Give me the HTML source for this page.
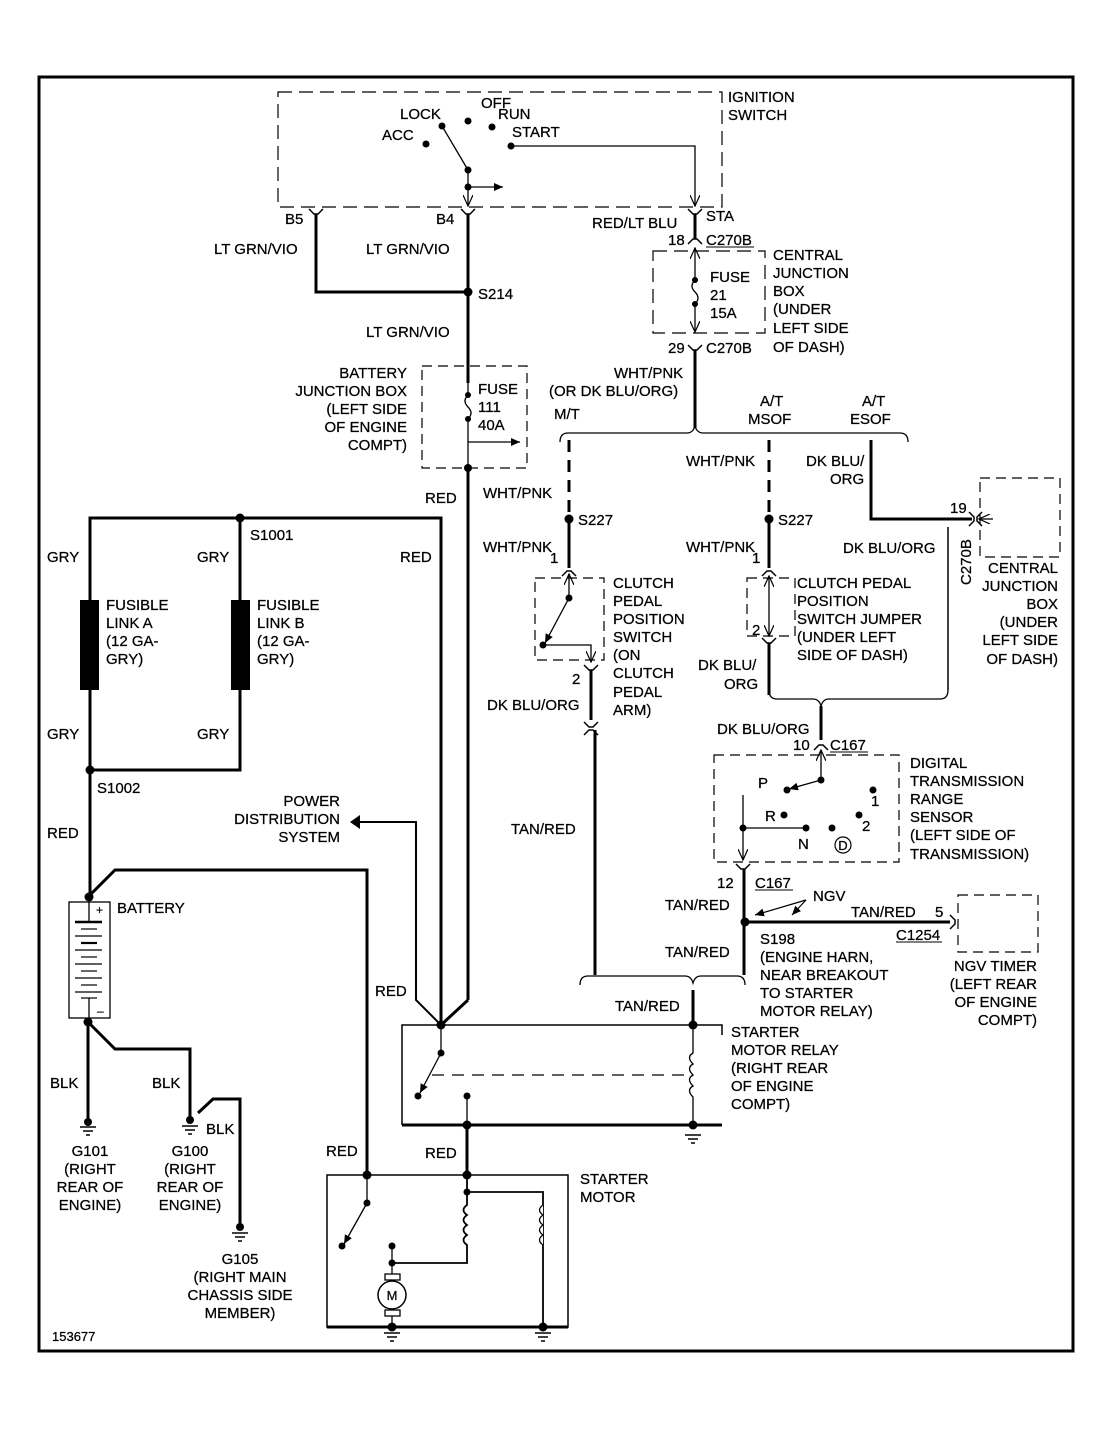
<!DOCTYPE html>
<html><head><meta charset="utf-8"><style>
html,body{margin:0;padding:0;background:#fff}
svg{display:block}
text{font-family:"Liberation Sans",sans-serif;font-size:15px;fill:#000;stroke:#000;stroke-width:0.25}
</style></head><body>
<svg width="1112" height="1429" viewBox="0 0 1112 1429" xmlns="http://www.w3.org/2000/svg">
<defs>
<marker id="ar" markerWidth="10" markerHeight="10" refX="9" refY="5" orient="auto" markerUnits="userSpaceOnUse"><path d="M0,1 L9,5 L0,9 Z" fill="#000"/></marker>
<marker id="av" markerWidth="12" markerHeight="10" refX="11" refY="5" orient="auto" markerUnits="userSpaceOnUse"><path d="M0,0 L11,5 L0,10" fill="none" stroke="#000" stroke-width="1.2"/></marker>
</defs>
<g fill="none" stroke="#000">
<rect x="39" y="77" width="1034" height="1274" stroke-width="3"/>
<rect x="278" y="92" width="444" height="115" stroke-dasharray="14,7" stroke-width="1.2"/>
<line x1="442" y1="126" x2="468" y2="170" stroke-width="1.3"/>
<line x1="468" y1="170" x2="468" y2="206" stroke-width="1.3" marker-end="url(#av)"/>
<line x1="468" y1="187" x2="503" y2="187" stroke-width="1.3" marker-end="url(#ar)"/>
<polyline points="511,146 695,146 695,206" stroke-width="1.3" marker-end="url(#av)"/>
<path d="M309,209 L314,214 L318,214 L323,209" stroke-width="1.5"/>
<path d="M461,209 L466,214 L470,214 L475,209" stroke-width="1.5"/>
<path d="M688,209 L693,214 L697,214 L702,209" stroke-width="1.5"/>
<path d="M688,244 L693,239 L697,239 L702,244" stroke-width="1.5"/>
<path d="M688,345 L693,350 L697,350 L702,345" stroke-width="1.5"/>
<polyline points="316,214 316,292 468,292" stroke-width="3"/>
<line x1="468" y1="214" x2="468" y2="383" stroke-width="3"/>
<line x1="695" y1="214" x2="695" y2="239" stroke-width="3"/>
<rect x="422" y="366" width="105" height="102" stroke-dasharray="10,6" stroke-width="1.2"/>
<path d="M468,383 L468,395 Q462,401 468,407 Q474,413 468,419 L468,468" stroke-width="1.3"/>
<line x1="468" y1="442" x2="520" y2="442" stroke-width="1.3" marker-end="url(#ar)"/>
<line x1="468" y1="468" x2="468" y2="1000" stroke-width="3"/>
<polyline points="468,1000 441,1025" stroke-width="3"/>
<rect x="653" y="251" width="112" height="82" stroke-dasharray="14,7" stroke-width="1.2"/>
<line x1="695" y1="262" x2="695" y2="248" stroke-width="1.3" marker-end="url(#av)"/>
<path d="M695,262 L695,280 Q689,286 695,292 Q701,298 695,304 L695,332" stroke-width="1.3" marker-end="url(#av)"/>
<line x1="695" y1="350" x2="695" y2="428" stroke-width="3"/>
<path d="M560,442 Q560,433 568,433 L687,433 Q693,433 695,426 Q697,433 703,433 L900,433 Q908,433 908,442" stroke-width="1.3"/>
<line x1="569" y1="440" x2="569" y2="519" stroke-width="3" stroke-dasharray="12,8"/>
<line x1="569" y1="519" x2="569" y2="568" stroke-width="3"/>
<path d="M562,576 L567,571 L571,571 L576,576" stroke-width="1.5"/>
<rect x="535" y="578" width="69" height="82" stroke-dasharray="10,6" stroke-width="1.2"/>
<line x1="569" y1="598" x2="569" y2="574" stroke-width="1.3" marker-end="url(#av)"/>
<line x1="569" y1="598" x2="545" y2="643" stroke-width="1.3" marker-end="url(#ar)"/>
<polyline points="545,645 591,645 591,662" stroke-width="1.3" marker-end="url(#av)"/>
<path d="M584,665 L589,670 L593,670 L598,665" stroke-width="1.5"/>
<line x1="591" y1="670" x2="591" y2="720" stroke-width="3"/>
<path d="M584,722 L589,727 L593,727 L598,722" stroke-width="1.5"/>
<path d="M584,735 L589,730 L593,730 L598,735" stroke-width="1.5"/>
<line x1="595" y1="730" x2="595" y2="975" stroke-width="3"/>
<line x1="769" y1="440" x2="769" y2="519" stroke-width="3" stroke-dasharray="12,8"/>
<line x1="769" y1="519" x2="769" y2="568" stroke-width="3"/>
<path d="M762,576 L767,571 L771,571 L776,576" stroke-width="1.5"/>
<rect x="747" y="578" width="48" height="58" stroke-dasharray="10,6" stroke-width="1.2"/>
<line x1="769" y1="605" x2="769" y2="576" stroke-width="1.3" marker-end="url(#av)"/>
<line x1="769" y1="605" x2="769" y2="636" stroke-width="1.3" marker-end="url(#av)"/>
<path d="M762,638 L767,643 L771,643 L776,638" stroke-width="1.5"/>
<line x1="769" y1="643" x2="769" y2="695" stroke-width="3"/>
<polyline points="871,440 871,519 972,519" stroke-width="3"/>
<path d="M969,512 L974,517 L974,521 L969,526" stroke-width="1.5"/>
<rect x="980" y="478" width="80" height="79" stroke-dasharray="10,6" stroke-width="1.2"/>
<line x1="993" y1="519" x2="979" y2="519" stroke-width="1.3" marker-end="url(#av)"/>
<path d="M982,512 L977,517 L977,521 L982,526" stroke-width="1.5"/>
<line x1="948" y1="527" x2="948" y2="690" stroke-width="1.5"/>
<path d="M769,690 Q769,699 777,699 L813,699 Q819,699 821,706 Q823,699 829,699 L940,699 Q948,699 948,690" stroke-width="1.3"/>
<line x1="821" y1="706" x2="821" y2="740" stroke-width="3"/>
<path d="M814,750 L819,745 L823,745 L828,750" stroke-width="1.5"/>
<rect x="714" y="755" width="185" height="107" stroke-dasharray="10,6" stroke-width="1.2"/>
<line x1="821" y1="780" x2="821" y2="750" stroke-width="1.3" marker-end="url(#av)"/>
<line x1="821" y1="780" x2="789" y2="789" stroke-width="1.3" marker-end="url(#ar)"/>
<polyline points="743,795 743,828 806,828" stroke-width="1.3"/>
<line x1="743" y1="828" x2="743" y2="860" stroke-width="1.3" marker-end="url(#av)"/>
<circle cx="843" cy="845" r="8" stroke-width="1.2"/>
<path d="M736,864 L741,869 L745,869 L750,864" stroke-width="1.5"/>
<line x1="744" y1="869" x2="744" y2="975" stroke-width="3"/>
<line x1="744" y1="922" x2="950" y2="922" stroke-width="3"/>
<path d="M950,915 L955,920 L955,924 L950,929" stroke-width="1.5"/>
<rect x="958" y="895" width="80" height="57" stroke-dasharray="10,6" stroke-width="1.2"/>
<line x1="806" y1="900" x2="755" y2="915" stroke-width="1.2" marker-end="url(#ar)"/>
<line x1="806" y1="900" x2="792" y2="915" stroke-width="1.2" marker-end="url(#ar)"/>
<path d="M580,985 Q580,976 588,976 L685,976 Q691,976 693,983 Q695,976 701,976 L737,976 Q745,976 745,985" stroke-width="1.3"/>
<line x1="693" y1="990" x2="693" y2="1025" stroke-width="3"/>
<polyline points="402,1125 402,1025 722,1025 722,1035" stroke-width="1.5"/>
<line x1="402" y1="1125" x2="722" y2="1125" stroke-width="3"/>
<line x1="441" y1="1025" x2="441" y2="1053" stroke-width="1.3"/>
<line x1="441" y1="1053" x2="420" y2="1093" stroke-width="1.3" marker-end="url(#ar)"/>
<line x1="432" y1="1075" x2="693" y2="1075" stroke-width="1.2" stroke-dasharray="12,8"/>
<line x1="467" y1="1096" x2="467" y2="1125" stroke-width="1.3"/>
<path d="M693,1025 L693,1053 Q686,1057 693,1064 Q686,1068 693,1075 Q686,1079 693,1086 Q686,1090 693,1097 L693,1125" stroke-width="1.3"/>
<line x1="467" y1="1125" x2="467" y2="1175" stroke-width="3"/>
<rect x="327" y="1175" width="241" height="152" stroke-width="1.5"/>
<line x1="327" y1="1327" x2="568" y2="1327" stroke-width="3"/>
<line x1="367" y1="1175" x2="367" y2="1203" stroke-width="1.3"/>
<line x1="367" y1="1203" x2="344" y2="1244" stroke-width="1.3" marker-end="url(#ar)"/>
<polyline points="467,1175 467,1192 543,1192 543,1327" stroke-width="1.8"/>
<path d="M467,1192 L467,1205 Q460,1210 467,1215 Q460,1220 467,1225 Q460,1230 467,1235 Q460,1240 467,1245 L467,1263 L392,1263" stroke-width="1.8"/>
<path d="M543,1205 Q536,1210 543,1215 Q536,1220 543,1225 Q536,1230 543,1235 Q536,1240 543,1245" stroke-width="1.3" fill="#fff"/>
<line x1="392" y1="1246" x2="392" y2="1327" stroke-width="1.3"/>
<rect x="385" y="1274" width="15" height="6" stroke-width="1.3" fill="#fff"/>
<rect x="385" y="1310" width="15" height="6" stroke-width="1.3" fill="#fff"/>
<circle cx="392" cy="1295" r="14" stroke-width="1.5" fill="#fff"/>
<polyline points="88,897 115,870 367,870 367,1175" stroke-width="3"/>
<polyline points="90,770 90,518 441,518 441,1025" stroke-width="3"/>
<polyline points="240,518 240,770 90,770" stroke-width="3"/>
<line x1="90" y1="770" x2="90" y2="897" stroke-width="3"/>
<polyline points="352,822 416,822 416,1000 441,1025" stroke-width="2"/>
<rect x="69" y="902" width="41" height="116" stroke-width="1.3"/>
<line x1="89" y1="902" x2="89" y2="922" stroke-width="1.3"/>
<line x1="75" y1="922" x2="102" y2="922" stroke-width="2.5"/>
<line x1="81" y1="929" x2="97" y2="929" stroke-width="1.2"/>
<line x1="75" y1="936" x2="102" y2="936" stroke-width="1.2"/>
<line x1="81" y1="943" x2="97" y2="943" stroke-width="2.2"/>
<line x1="75" y1="950" x2="102" y2="950" stroke-width="1.2"/>
<line x1="81" y1="957" x2="97" y2="957" stroke-width="1.2"/>
<line x1="75" y1="964" x2="102" y2="964" stroke-width="1.2"/>
<line x1="81" y1="971" x2="97" y2="971" stroke-width="1.2"/>
<line x1="75" y1="978" x2="102" y2="978" stroke-width="1.2"/>
<line x1="81" y1="985" x2="97" y2="985" stroke-width="1.2"/>
<line x1="75" y1="992" x2="102" y2="992" stroke-width="1.2"/>
<line x1="81" y1="998" x2="97" y2="998" stroke-width="1.2"/>
<line x1="89" y1="998" x2="89" y2="1018" stroke-width="1.3"/>
<line x1="88" y1="1022" x2="88" y2="1120" stroke-width="3"/>
<polyline points="88,1022 115,1049 190,1049 190,1118" stroke-width="3"/>
<polyline points="198,1113 213,1099 240,1099 240,1225" stroke-width="3"/>
<g stroke-width="1.5">
<path d="M80,1127 H96 M83,1131 H93 M86,1135 H90"/>
<path d="M182,1126 H198 M185,1130 H195 M188,1134 H192"/>
<path d="M232,1233 H248 M235,1237 H245 M238,1241 H242"/>
<path d="M685,1135 H701 M688,1139 H698 M691,1143 H695"/>
<path d="M384,1333 H400 M387,1337 H397 M390,1341 H394"/>
<path d="M535,1333 H551 M538,1337 H548 M541,1341 H545"/>
</g>
</g>
<rect x="80" y="600" width="19" height="90" fill="#000"/>
<rect x="231" y="600" width="19" height="90" fill="#000"/>
<g fill="#000">
<circle cx="426" cy="144" r="3.5"/><circle cx="442" cy="126" r="3.5"/><circle cx="468" cy="121" r="3.5"/><circle cx="492" cy="127" r="3.5"/><circle cx="511" cy="146" r="3.5"/>
<circle cx="468" cy="170" r="3.5"/><circle cx="468" cy="187" r="3.5"/>
<circle cx="468" cy="292" r="4.5"/><circle cx="468" cy="395" r="3"/><circle cx="468" cy="419" r="3"/><circle cx="468" cy="468" r="4"/>
<circle cx="695" cy="280" r="3"/><circle cx="695" cy="304" r="3"/>
<circle cx="569" cy="519" r="4.5"/><circle cx="769" cy="519" r="4.5"/>
<circle cx="569" cy="598" r="3.5"/><circle cx="543" cy="645" r="3.5"/>
<circle cx="821" cy="780" r="3.5"/><circle cx="787" cy="790" r="3.5"/><circle cx="873" cy="790" r="3.5"/><circle cx="859" cy="815" r="3.5"/><circle cx="832" cy="828" r="3.5"/><circle cx="784" cy="815" r="3.5"/><circle cx="743" cy="828" r="3.5"/><circle cx="806" cy="828" r="3.5"/>
<circle cx="745" cy="922" r="4.5"/>
<circle cx="240" cy="518" r="4.5"/><circle cx="90" cy="770" r="4.5"/>
<circle cx="89" cy="897" r="4.5"/><circle cx="88" cy="1022" r="4.5"/>
<circle cx="441" cy="1025" r="4.5"/><circle cx="693" cy="1025" r="4.5"/><circle cx="441" cy="1053" r="3.5"/><circle cx="418" cy="1096" r="3.5"/><circle cx="467" cy="1096" r="3.5"/><circle cx="467" cy="1125" r="4.5"/><circle cx="693" cy="1125" r="4.5"/>
<circle cx="367" cy="1175" r="4.5"/><circle cx="467" cy="1175" r="4.5"/><circle cx="367" cy="1203" r="3.5"/><circle cx="342" cy="1246" r="3.5"/><circle cx="467" cy="1192" r="3.5"/><circle cx="392" cy="1246" r="3.5"/><circle cx="392" cy="1263" r="3.5"/><circle cx="392" cy="1327" r="4.5"/><circle cx="543" cy="1327" r="4.5"/>
<circle cx="88" cy="1122" r="4"/><circle cx="190" cy="1120" r="4"/><circle cx="240" cy="1227" r="4"/>
</g>
<path d="M360,815 L350,822 L360,829 Z" fill="#000"/>
<text x="392" y="1300" style="font-size:13px" text-anchor="middle">M</text>
<text x="843" y="850" style="font-size:13px" text-anchor="middle">D</text>
<text x="728" y="102">IGNITION</text><text x="728" y="120">SWITCH</text>
<text x="400" y="119">LOCK</text><text x="481" y="108">OFF</text><text x="498" y="119">RUN</text><text x="382" y="140">ACC</text><text x="512" y="137">START</text>
<text x="285" y="224">B5</text><text x="436" y="224">B4</text>
<text x="214" y="254">LT GRN/VIO</text><text x="366" y="254">LT GRN/VIO</text>
<text x="478" y="299">S214</text><text x="366" y="337">LT GRN/VIO</text>
<g text-anchor="end"><text x="407" y="378">BATTERY</text><text x="407" y="396">JUNCTION BOX</text><text x="407" y="414">(LEFT SIDE</text><text x="407" y="432">OF ENGINE</text><text x="407" y="450">COMPT)</text></g>
<text x="478" y="394">FUSE</text><text x="478" y="412">111</text><text x="478" y="430">40A</text>
<text x="425" y="503">RED</text>
<text x="592" y="228">RED/LT BLU</text><text x="706" y="221">STA</text>
<text x="668" y="245">18</text><text x="706" y="245">C270B</text>
<line x1="706" y1="247" x2="754" y2="247" stroke="#000"/>
<text x="710" y="282">FUSE</text><text x="710" y="300">21</text><text x="710" y="318">15A</text>
<text x="773" y="260">CENTRAL</text><text x="773" y="278">JUNCTION</text><text x="773" y="296">BOX</text><text x="773" y="314">(UNDER</text><text x="773" y="333">LEFT SIDE</text><text x="773" y="352">OF DASH)</text>
<text x="668" y="353">29</text><text x="706" y="353">C270B</text>
<text x="614" y="378">WHT/PNK</text><text x="549" y="396">(OR DK BLU/ORG)</text>
<text x="554" y="419">M/T</text><text x="760" y="406">A/T</text><text x="748" y="424">MSOF</text><text x="862" y="406">A/T</text><text x="850" y="424">ESOF</text>
<text x="483" y="498">WHT/PNK</text><text x="578" y="525">S227</text><text x="483" y="552">WHT/PNK</text><text x="550" y="563">1</text>
<text x="613" y="588">CLUTCH</text><text x="613" y="606">PEDAL</text><text x="613" y="624">POSITION</text><text x="613" y="642">SWITCH</text><text x="613" y="660">(ON</text><text x="613" y="678">CLUTCH</text><text x="613" y="697">PEDAL</text><text x="613" y="715">ARM)</text>
<text x="572" y="684">2</text><text x="487" y="710">DK BLU/ORG</text><text x="511" y="834">TAN/RED</text>
<text x="686" y="466">WHT/PNK</text><text x="778" y="525">S227</text><text x="686" y="552">WHT/PNK</text><text x="752" y="563">1</text><text x="752" y="635">2</text>
<text x="797" y="588">CLUTCH PEDAL</text><text x="797" y="606">POSITION</text><text x="797" y="624">SWITCH JUMPER</text><text x="797" y="642">(UNDER LEFT</text><text x="797" y="660">SIDE OF DASH)</text>
<text x="698" y="670">DK BLU/</text><text x="724" y="689">ORG</text>
<text x="806" y="466">DK BLU/</text><text x="830" y="484">ORG</text><text x="950" y="513">19</text><text x="843" y="553">DK BLU/ORG</text>
<text transform="translate(971,585) rotate(-90)">C270B</text>
<g text-anchor="end"><text x="1058" y="573">CENTRAL</text><text x="1058" y="591">JUNCTION</text><text x="1058" y="609">BOX</text><text x="1058" y="627">(UNDER</text><text x="1058" y="645">LEFT SIDE</text><text x="1058" y="664">OF DASH)</text></g>
<text x="717" y="734">DK BLU/ORG</text><text x="793" y="750">10</text><text x="830" y="750">C167</text>
<line x1="830" y1="752" x2="868" y2="752" stroke="#000"/>
<text x="758" y="788">P</text><text x="765" y="821">R</text><text x="798" y="849">N</text><text x="871" y="806">1</text><text x="862" y="831">2</text>
<text x="910" y="768">DIGITAL</text><text x="910" y="786">TRANSMISSION</text><text x="910" y="804">RANGE</text><text x="910" y="822">SENSOR</text><text x="910" y="840">(LEFT SIDE OF</text><text x="910" y="859">TRANSMISSION)</text>
<text x="717" y="888">12</text><text x="755" y="888">C167</text>
<line x1="755" y1="890" x2="793" y2="890" stroke="#000"/>
<text x="813" y="901">NGV</text><text x="665" y="910">TAN/RED</text><text x="851" y="917">TAN/RED</text><text x="935" y="917">5</text>
<text x="896" y="940">C1254</text><line x1="896" y1="942" x2="942" y2="942" stroke="#000"/>
<text x="665" y="957">TAN/RED</text>
<text x="760" y="944">S198</text><text x="760" y="962">(ENGINE HARN,</text><text x="760" y="980">NEAR BREAKOUT</text><text x="760" y="998">TO STARTER</text><text x="760" y="1016">MOTOR RELAY)</text>
<g text-anchor="end"><text x="1037" y="971">NGV TIMER</text><text x="1037" y="989">(LEFT REAR</text><text x="1037" y="1007">OF ENGINE</text><text x="1037" y="1025">COMPT)</text></g>
<text x="615" y="1011">TAN/RED</text>
<text x="731" y="1037">STARTER</text><text x="731" y="1055">MOTOR RELAY</text><text x="731" y="1073">(RIGHT REAR</text><text x="731" y="1091">OF ENGINE</text><text x="731" y="1109">COMPT)</text>
<text x="425" y="1158">RED</text><text x="326" y="1156">RED</text><text x="375" y="996">RED</text>
<text x="580" y="1184">STARTER</text><text x="580" y="1202">MOTOR</text>
<g text-anchor="end"><text x="340" y="806">POWER</text><text x="340" y="824">DISTRIBUTION</text><text x="340" y="842">SYSTEM</text></g>
<text x="400" y="562">RED</text>
<text x="250" y="540">S1001</text>
<text x="47" y="562">GRY</text><text x="197" y="562">GRY</text>
<text x="106" y="610">FUSIBLE</text><text x="106" y="628">LINK A</text><text x="106" y="646">(12 GA-</text><text x="106" y="664">GRY)</text>
<text x="257" y="610">FUSIBLE</text><text x="257" y="628">LINK B</text><text x="257" y="646">(12 GA-</text><text x="257" y="664">GRY)</text>
<text x="47" y="739">GRY</text><text x="197" y="739">GRY</text>
<text x="97" y="793">S1002</text><text x="47" y="838">RED</text>
<text x="117" y="913">BATTERY</text>
<text x="96" y="914" style="font-size:12px">+</text><text x="97" y="1015" style="font-size:12px">–</text>
<text x="50" y="1088">BLK</text><text x="152" y="1088">BLK</text><text x="206" y="1134">BLK</text>
<g text-anchor="middle"><text x="90" y="1156">G101</text><text x="90" y="1174">(RIGHT</text><text x="90" y="1192">REAR OF</text><text x="90" y="1210">ENGINE)</text>
<text x="190" y="1156">G100</text><text x="190" y="1174">(RIGHT</text><text x="190" y="1192">REAR OF</text><text x="190" y="1210">ENGINE)</text>
<text x="240" y="1264">G105</text><text x="240" y="1282">(RIGHT MAIN</text><text x="240" y="1300">CHASSIS SIDE</text><text x="240" y="1318">MEMBER)</text></g>
<text x="52" y="1341" style="font-size:13px">153677</text>
</svg>
</body></html>
